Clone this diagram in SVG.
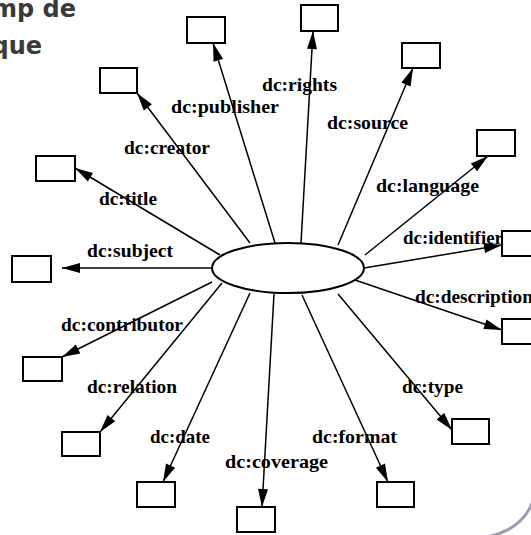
<svg xmlns="http://www.w3.org/2000/svg" width="531" height="535" viewBox="0 0 531 535">
<style>
.box{fill:#fff;stroke:#000;stroke-width:2}
.ell{fill:#fff;stroke:#000;stroke-width:2}
.edge{stroke:#000;stroke-width:1.5;fill:none;marker-end:url(#arr)}
.lbl{font-family:"Liberation Serif","Times New Roman",serif;font-weight:bold;font-size:19px;fill:#000}
.title{font-family:"DejaVu Sans","Liberation Sans",sans-serif;font-weight:bold;font-size:24px;fill:#3a3a3a}
</style>
<defs>
<marker id="arr" markerUnits="userSpaceOnUse" markerWidth="18" markerHeight="10" refX="18" refY="5" orient="auto" overflow="visible">
<path d="M0,0 L18,5 L0,10 z" fill="#000"/>
</marker>
</defs>
<rect width="531" height="535" fill="#fff"/>
<text class="title" x="76" y="17" text-anchor="end">mp de</text>
<text class="title" x="42" y="54" text-anchor="end">que</text>
<path d="M534 498 Q524 530 486 537" fill="none" stroke="#a09cb0" stroke-width="3"/>
<g id="connectors">
<g id="e-title"><line class="edge" x1="220" y1="255" x2="75" y2="168"/><text class="lbl" x="99" y="205" textLength="58" lengthAdjust="spacingAndGlyphs">dc:title</text></g>
<g id="e-creator"><line class="edge" x1="250" y1="243" x2="137" y2="93"/><text class="lbl" x="124" y="154" textLength="86" lengthAdjust="spacingAndGlyphs">dc:creator</text></g>
<g id="e-publisher"><line class="edge" x1="275" y1="243" x2="213" y2="43"/><text class="lbl" x="171" y="113" textLength="108" lengthAdjust="spacingAndGlyphs">dc:publisher</text></g>
<g id="e-rights"><line class="edge" x1="301" y1="243" x2="313" y2="31"/><text class="lbl" x="262" y="91" textLength="75" lengthAdjust="spacingAndGlyphs">dc:rights</text></g>
<g id="e-source"><line class="edge" x1="338" y1="245" x2="413" y2="68"/><text class="lbl" x="327" y="129" textLength="81" lengthAdjust="spacingAndGlyphs">dc:source</text></g>
<g id="e-language"><line class="edge" x1="365" y1="255" x2="488" y2="156"/><text class="lbl" x="376" y="192" textLength="103" lengthAdjust="spacingAndGlyphs">dc:language</text></g>
<g id="e-identifier"><line class="edge" x1="364" y1="268" x2="502" y2="245"/><text class="lbl" x="403" y="244" textLength="100" lengthAdjust="spacingAndGlyphs">dc:identifier</text></g>
<g id="e-description"><line class="edge" x1="355" y1="280" x2="502" y2="330"/><text class="lbl" x="415" y="303" textLength="118" lengthAdjust="spacingAndGlyphs">dc:description</text></g>
<g id="e-type"><line class="edge" x1="338" y1="294" x2="452" y2="430"/><text class="lbl" x="402" y="393" textLength="61" lengthAdjust="spacingAndGlyphs">dc:type</text></g>
<g id="e-format"><line class="edge" x1="302" y1="295" x2="388" y2="482"/><text class="lbl" x="312" y="443" textLength="85" lengthAdjust="spacingAndGlyphs">dc:format</text></g>
<g id="e-coverage"><line class="edge" x1="274" y1="294" x2="262" y2="507"/><text class="lbl" x="225" y="468" textLength="103" lengthAdjust="spacingAndGlyphs">dc:coverage</text></g>
<g id="e-date"><line class="edge" x1="250" y1="293" x2="163" y2="482"/><text class="lbl" x="150" y="443" textLength="60" lengthAdjust="spacingAndGlyphs">dc:date</text></g>
<g id="e-relation"><line class="edge" x1="222" y1="283" x2="100" y2="432"/><text class="lbl" x="87" y="393" textLength="90" lengthAdjust="spacingAndGlyphs">dc:relation</text></g>
<g id="e-contributor"><line class="edge" x1="212" y1="282" x2="62" y2="357"/><text class="lbl" x="61" y="331" textLength="122" lengthAdjust="spacingAndGlyphs">dc:contributor</text></g>
<g id="e-subject"><line class="edge" x1="212" y1="268" x2="62" y2="268"/><text class="lbl" x="87" y="257" textLength="86" lengthAdjust="spacingAndGlyphs">dc:subject</text></g>
</g>
<g id="resource"><ellipse class="ell" cx="288" cy="268" rx="76" ry="25"/></g>
<g id="n-title"><rect class="box" x="36" y="156" width="39" height="25"/></g>
<g id="n-creator"><rect class="box" x="100" y="68" width="37" height="25"/></g>
<g id="n-publisher"><rect class="box" x="187" y="17" width="38" height="26"/></g>
<g id="n-rights"><rect class="box" x="301" y="5" width="37" height="26"/></g>
<g id="n-source"><rect class="box" x="402" y="43" width="38" height="25"/></g>
<g id="n-language"><rect class="box" x="477" y="130" width="38" height="26"/></g>
<g id="n-identifier"><rect class="box" x="502" y="231" width="38" height="25"/></g>
<g id="n-description"><rect class="box" x="502" y="319" width="38" height="25"/></g>
<g id="n-type"><rect class="box" x="452" y="419" width="37" height="25"/></g>
<g id="n-format"><rect class="box" x="377" y="482" width="37" height="25"/></g>
<g id="n-coverage"><rect class="box" x="237" y="507" width="38" height="25"/></g>
<g id="n-date"><rect class="box" x="137" y="482" width="38" height="25"/></g>
<g id="n-relation"><rect class="box" x="62" y="432" width="38" height="24"/></g>
<g id="n-contributor"><rect class="box" x="23" y="357" width="39" height="24"/></g>
<g id="n-subject"><rect class="box" x="12" y="256" width="39" height="26"/></g>
</svg>
